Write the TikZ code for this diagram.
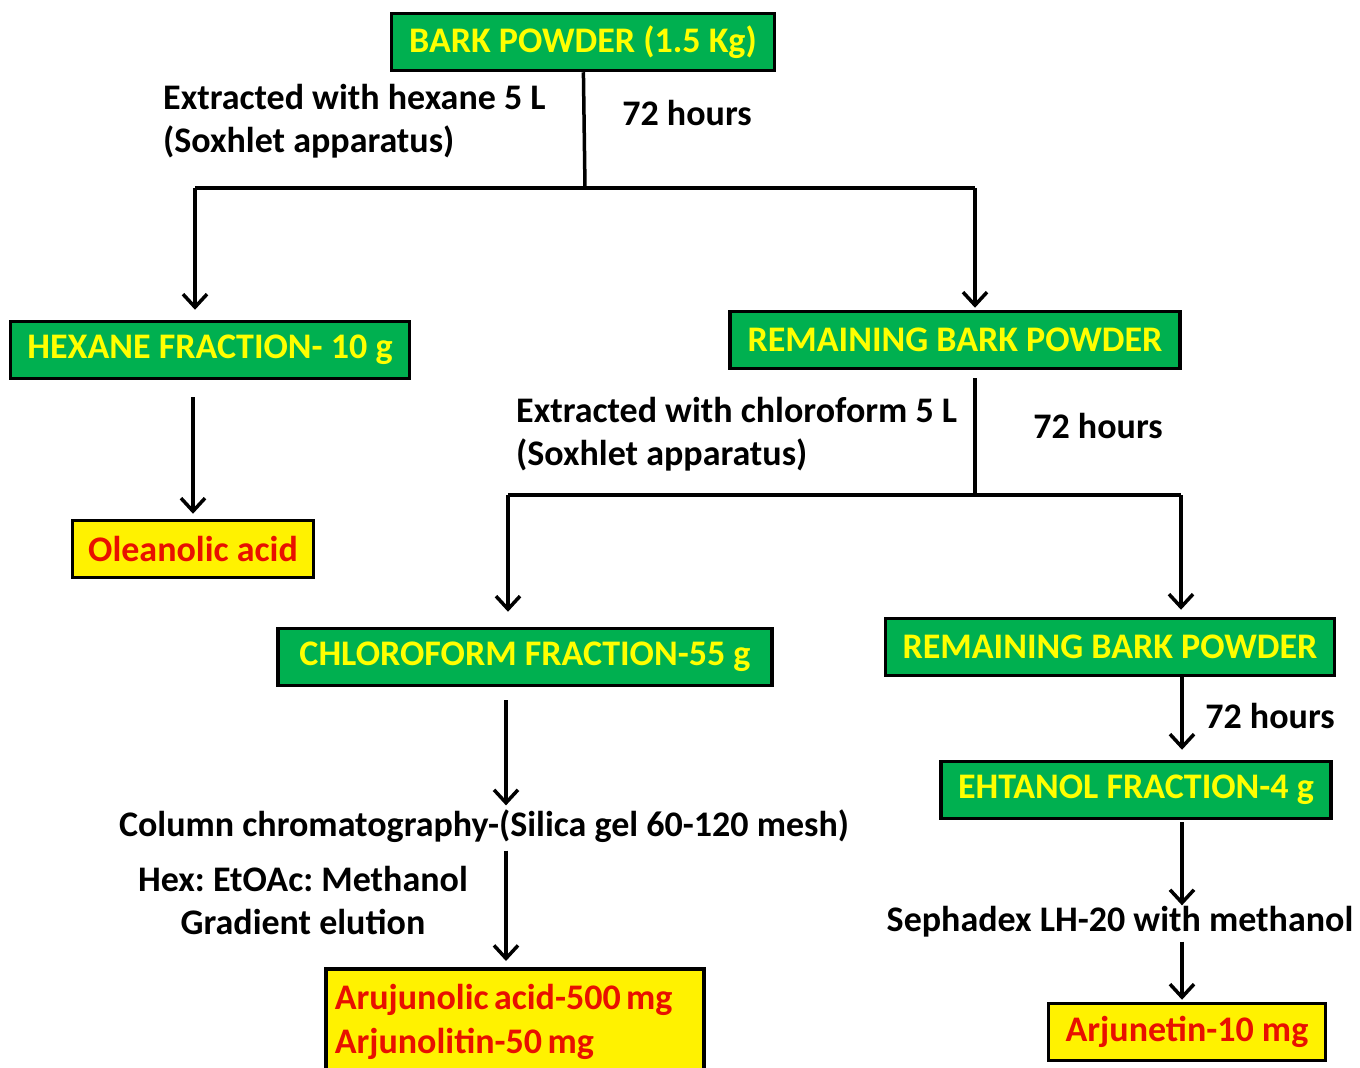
\documentclass[tikz,border=0pt]{standalone}
\usepackage{fontspec}
\setmainfont{Carlito}
\usetikzlibrary{arrows.meta,positioning}
\definecolor{boxgreen}{HTML}{00B050}
\definecolor{txtyellow}{HTML}{FFFF00}
\definecolor{txtred}{HTML}{E81000}
\frenchspacing
\tikzset{
  fraction/.style={draw=black, line width=3.5pt, fill=boxgreen, text=txtyellow,
    font=\bfseries\fontsize{36}{40}\selectfont, inner sep=0pt, minimum height=57pt},
  product/.style={fraction, fill=yellow, text=txtred},
  note/.style={font=\bfseries\fontsize{36}{43}\selectfont, inner sep=0pt},
  ln/.style={line width=3.5pt},
  arr/.style={line width=3.5pt, -{Straight Barb[length=13pt,width=24pt,line width=3.5pt]}}
}

\begin{document}
\begin{tikzpicture}[x=1pt,y=-1pt]
\useasboundingbox (0,0) rectangle (1360,1068);

% boxes
\node[fraction, minimum width=383pt] (bark) at (583,42) {BARK POWDER (1.5 Kg)};
\node[fraction, minimum width=399pt] (hexane) at (210,350) {HEXANE FRACTION- 10 g};
\node[product, minimum width=241pt] (olean) at (193,549) {Oleanolic acid};
\node[fraction, minimum width=450pt] (rem1) at (955,340) {REMAINING BARK POWDER};
\node[fraction, minimum width=494pt] (chloro) at (525,657) {CHLOROFORM FRACTION-55 g};
\node[fraction, minimum width=449pt] (rem2) at (1110,647) {REMAINING BARK POWDER};
\node[fraction, minimum width=390pt] (ethanol) at (1136,790) {EHTANOL FRACTION-4 g};
\node[product, minimum width=277pt] (arjunetin) at (1187,1032) {Arjunetin-10 mg};
\node[product, anchor=north west, font=\bfseries\fontsize{36}{44}\selectfont,
  align=left, text width=360pt, inner xsep=9pt, minimum height=106pt]
  (arjuno) at (324,967) {\spaceskip=0.15em plus 0.05em\relax Arujunolic acid-500 mg\\Arjunolitin-50 mg};

% texts
\node[note, anchor=west, align=left] (hexnote) at (163,121) {Extracted with hexane 5 L\\(Soxhlet apparatus)};
\node[note] (hrs1) at (687,113) {72 hours};
\node[note, anchor=west, align=left] (chlnote) at (516,434) {Extracted with chloroform 5 L\\(Soxhlet apparatus)};
\node[note] (hrs2) at (1098,426) {72 hours};
\node[note] (column) at (484,826) {Column chromatography-(Silica gel 60-120 mesh)};
\node[note, align=center] (elution) at (303,900) {Hex: EtOAc: Methanol\\Gradient elution};
\node[note] (hrs3) at (1270,716) {72 hours};
\node[note] (sephadex) at (1120,922) {Sephadex LH-20 with methanol};

% first split
\coordinate (j1) at (585,188);
\coordinate (j1l) at (195,188);
\coordinate (j1r) at (975,188);
\draw[ln] (bark) -- (j1);
\draw[ln] (j1l) -- (j1r);
\draw[arr, shorten >=10pt] (j1l) -- (j1l |- hexane.north);
\draw[arr, shorten >=2pt] (j1r) -- (j1r |- rem1.north);
\draw[arr, shorten <=17pt, shorten >=5pt] (olean.north |- hexane.south) -- (olean.north);

% second split
\coordinate (j2) at (975,495);
\coordinate (j2l) at (508,495);
\coordinate (j2r) at (1181,495);
\draw[ln, shorten <=8pt] (j2 |- rem1.south) -- (j2);
\draw[ln] (j2l) -- (j2r);
\draw[arr, shorten >=15pt] (j2l) -- (j2l |- chloro.north);
\draw[arr, shorten >=7pt] (j2r) -- (j2r |- rem2.north);

% chloroform branch
\coordinate (axl) at (506,0);
\draw[arr, shorten <=13pt, shorten >=4pt] (axl |- chloro.south) -- (axl |- column.north);
\draw[arr, shorten <=8pt, shorten >=6pt] (axl |- column.south) -- (axl |- arjuno.north);

% remaining branch
\coordinate (axr) at (1182,0);
\draw[arr, shorten >=10pt] (axr |- rem2.south) -- (axr |- ethanol.north);
\draw[arr, shorten <=2pt, shorten >=1pt] (axr |- ethanol.south) -- (axr |- sephadex.north);
\draw[arr, shorten <=4pt, shorten >=2pt] (axr |- sephadex.south) -- (axr |- arjunetin.north);

\end{tikzpicture}
\end{document}
